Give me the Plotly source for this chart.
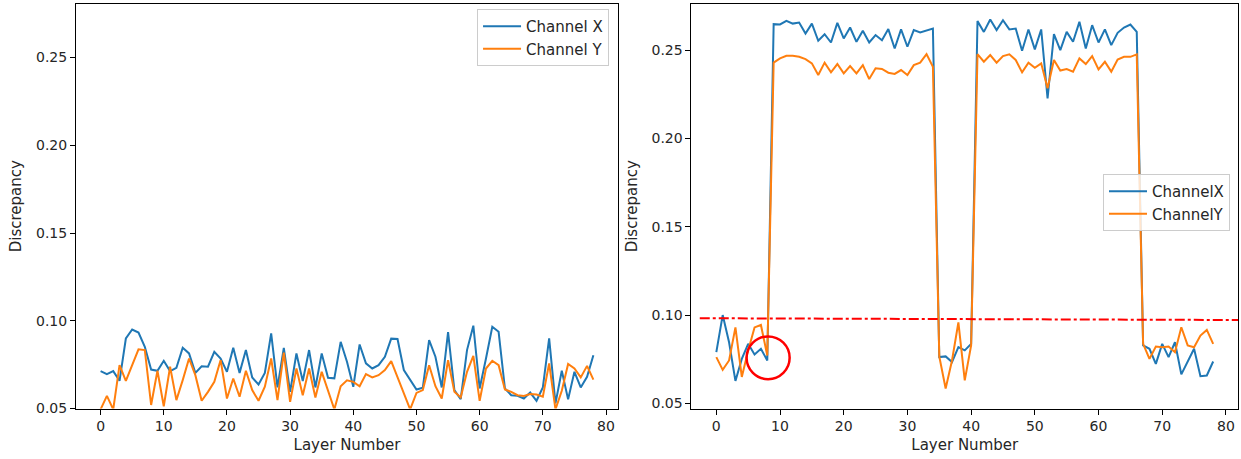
import plotly.graph_objects as go

layers = list(range(79))

left_x = [0.0713, 0.0696, 0.0713, 0.0658, 0.0899, 0.0950, 0.0933, 0.0852, 0.0722, 0.0715,
          0.0772, 0.0713, 0.0732, 0.0846, 0.0814, 0.0703, 0.0741, 0.0738, 0.0823, 0.0785,
          0.0709, 0.0846, 0.0703, 0.0833, 0.0677, 0.0637, 0.0703, 0.0928, 0.0620, 0.0846,
          0.0595, 0.0814, 0.0656, 0.0833, 0.0620, 0.0814, 0.0675, 0.0672, 0.0880, 0.0766,
          0.0624, 0.0865, 0.0757, 0.0728, 0.0747, 0.0795, 0.0898, 0.0896, 0.0719, 0.0661,
          0.0608, 0.0618, 0.0890, 0.0795, 0.0620, 0.0935, 0.0605, 0.0553, 0.0833, 0.0972,
          0.0614, 0.0785, 0.0966, 0.0937, 0.0614, 0.0576, 0.0572, 0.0557, 0.0591, 0.0544,
          0.0620, 0.0900, 0.0529, 0.0715, 0.0552, 0.0709, 0.0620, 0.0681, 0.0804]
left_y = [0.0495, 0.0572, 0.0495, 0.0747, 0.0658, 0.0747, 0.0837, 0.0833, 0.0520, 0.0715,
          0.0513, 0.0738, 0.0548, 0.0662, 0.0785, 0.0690, 0.0544, 0.0595, 0.0652, 0.0776,
          0.0557, 0.0671, 0.0567, 0.0715, 0.0605, 0.0544, 0.0624, 0.0785, 0.0548, 0.0818,
          0.0538, 0.0728, 0.0576, 0.0728, 0.0563, 0.0709, 0.0605, 0.0495, 0.0627, 0.0661,
          0.0652, 0.0627, 0.0696, 0.0677, 0.0690, 0.0719, 0.0770, 0.0680, 0.0589, 0.0495,
          0.0589, 0.0605, 0.0747, 0.0627, 0.0557, 0.0776, 0.0595, 0.0563, 0.0709, 0.0800,
          0.0544, 0.0728, 0.0772, 0.0747, 0.0608, 0.0595, 0.0576, 0.0572, 0.0582, 0.0580,
          0.0567, 0.0757, 0.0495, 0.0601, 0.0754, 0.0728, 0.0677, 0.0743, 0.0665]

right_x = [0.0790, 0.1000, 0.0846, 0.0627, 0.0752, 0.0837, 0.0777, 0.0809, 0.0743, 0.2647,
           0.2645, 0.2666, 0.2650, 0.2656, 0.2594, 0.2650, 0.2553, 0.2590, 0.2543, 0.2654,
           0.2566, 0.2628, 0.2547, 0.2609, 0.2543, 0.2585, 0.2556, 0.2619, 0.2509, 0.2617,
           0.2519, 0.2613, 0.2600, 0.2613, 0.2622, 0.0762, 0.0766, 0.0734, 0.0818, 0.0800,
           0.0837, 0.2664, 0.2603, 0.2673, 0.2613, 0.2669, 0.2617, 0.2622, 0.2496, 0.2617,
           0.2504, 0.2617, 0.2227, 0.2590, 0.2500, 0.2603, 0.2547, 0.2660, 0.2509, 0.2641,
           0.2543, 0.2617, 0.2528, 0.2598, 0.2628, 0.2645, 0.2603, 0.0828, 0.0809, 0.0724,
           0.0837, 0.0762, 0.0846, 0.0664, 0.0734, 0.0809, 0.0654, 0.0658, 0.0737]
right_y = [0.0762, 0.0690, 0.0743, 0.0930, 0.0650, 0.0800, 0.0930, 0.0944, 0.0771, 0.2429,
           0.2453, 0.2468, 0.2468, 0.2462, 0.2449, 0.2425, 0.2359, 0.2429, 0.2374, 0.2421,
           0.2368, 0.2410, 0.2368, 0.2415, 0.2336, 0.2397, 0.2393, 0.2372, 0.2365, 0.2387,
           0.2359, 0.2415, 0.2429, 0.2477, 0.2406, 0.0766, 0.0584, 0.0743, 0.0959, 0.0630,
           0.0828, 0.2477, 0.2434, 0.2472, 0.2429, 0.2466, 0.2476, 0.2444, 0.2374, 0.2429,
           0.2400, 0.2425, 0.2284, 0.2444, 0.2384, 0.2393, 0.2378, 0.2453, 0.2421, 0.2466,
           0.2391, 0.2434, 0.2378, 0.2447, 0.2462, 0.2462, 0.2476, 0.0837, 0.0752, 0.0822,
           0.0818, 0.0822, 0.0790, 0.0931, 0.0828, 0.0818, 0.0884, 0.0916, 0.0837]

threshold_x = [-2.6, 82.5]
threshold_y = [0.0982, 0.0972]

circle_center = (8.13, 0.0758)
circle_radius = (3.38, 0.0121)

y_ticks = [0.05, 0.10, 0.15, 0.20, 0.25]
x_ticks = [0, 10, 20, 30, 40, 50, 60, 70, 80]

BLUE = "#1f77b4"
ORANGE = "#ff7f0e"
FONT = "DejaVu Sans"
TXT = "#262626"

fig = go.Figure()
fig.add_trace(go.Scatter(x=layers, y=left_x, mode="lines", name="Channel X",
                         line=dict(color=BLUE, width=2), xaxis="x", yaxis="y", legend="legend"))
fig.add_trace(go.Scatter(x=layers, y=left_y, mode="lines", name="Channel Y",
                         line=dict(color=ORANGE, width=2), xaxis="x", yaxis="y", legend="legend"))
fig.add_trace(go.Scatter(x=layers, y=right_x, mode="lines", name="ChannelX",
                         line=dict(color=BLUE, width=2), xaxis="x2", yaxis="y2", legend="legend2"))
fig.add_trace(go.Scatter(x=layers, y=right_y, mode="lines", name="ChannelY",
                         line=dict(color=ORANGE, width=2), xaxis="x2", yaxis="y2", legend="legend2"))
fig.add_trace(go.Scatter(x=threshold_x, y=threshold_y, mode="lines", showlegend=False,
                         line=dict(color="red", width=2, dash="10px,3px,3px,3px"),
                         xaxis="x2", yaxis="y2", cliponaxis=True))

fig.add_shape(type="circle", xref="x2", yref="y2",
              x0=circle_center[0] - circle_radius[0], x1=circle_center[0] + circle_radius[0],
              y0=circle_center[1] - circle_radius[1], y1=circle_center[1] + circle_radius[1],
              line=dict(color="red", width=2.5))

axis_common = dict(showline=True, linecolor="black", linewidth=1, mirror=True,
                   ticks="outside", ticklen=5, tickwidth=1, tickcolor="black",
                   showgrid=False, zeroline=False, automargin=False,
                   tickfont=dict(family=FONT, size=14, color=TXT))

xtitle = dict(text="Layer Number", font=dict(family=FONT, size=15, color=TXT), standoff=6)
ytitle = dict(text="Discrepancy", font=dict(family=FONT, size=15, color=TXT), standoff=10)

legend_common = dict(xanchor="left", yanchor="top",
                     bgcolor="rgba(255,255,255,0.8)", bordercolor="#cccccc", borderwidth=1,
                     font=dict(family=FONT, size=15, color=TXT), tracegroupgap=0,
                     itemwidth=38)

fig.update_layout(
    width=1241, height=459,
    margin=dict(l=0, r=0, t=0, b=0, autoexpand=False),
    paper_bgcolor="white", plot_bgcolor="white",
    font=dict(family=FONT, size=14, color=TXT),
    xaxis=dict(domain=[0.0612, 0.4980], range=[-3.9, 81.9], tickvals=x_ticks,
               anchor="y", title=xtitle, **axis_common),
    yaxis=dict(domain=[0.110, 0.9913], range=[0.05, 0.2805], tickvals=y_ticks,
               tickformat=".2f", anchor="x", title=ytitle, **axis_common),
    xaxis2=dict(domain=[0.5572, 0.9976], range=[-3.9, 81.9], tickvals=x_ticks,
                anchor="y2", title=xtitle, **axis_common),
    yaxis2=dict(domain=[0.110, 0.9913], range=[0.0471, 0.2761], tickvals=y_ticks,
                tickformat=".2f", anchor="x2", title=ytitle, **axis_common),
    legend=dict(x=0.3844, y=0.9804, **legend_common),
    legend2=dict(x=0.8888, y=0.6209, **legend_common),
    showlegend=True,
)

fig.write_html("out.html")
